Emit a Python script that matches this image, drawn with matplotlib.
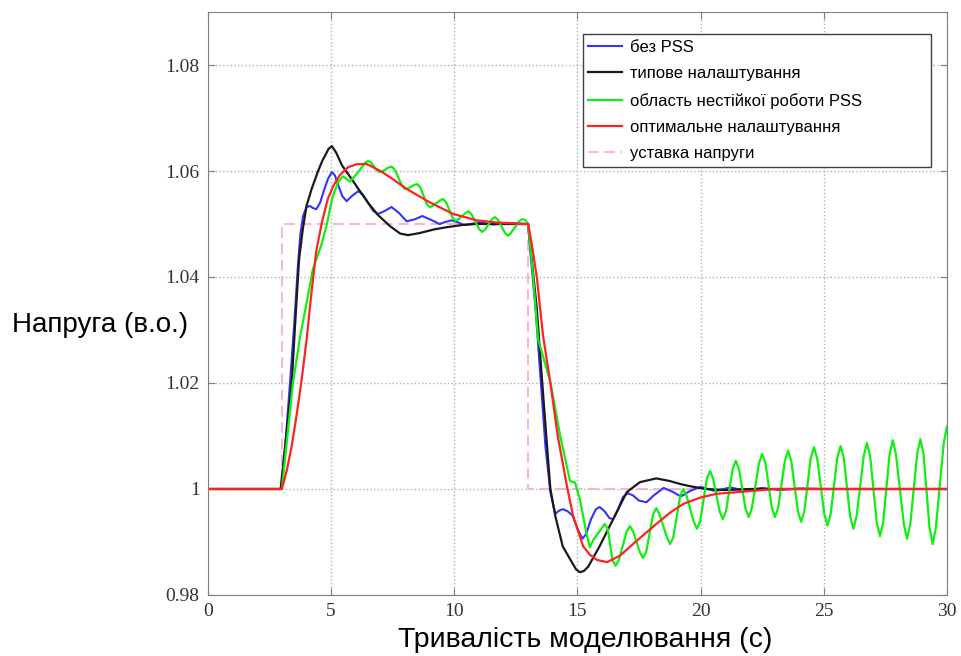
import matplotlib.pyplot as plt

# setpoint
t_set = [0, 3, 3, 13, 13, 30]
v_set = [1.0, 1.0, 1.05, 1.05, 1.0, 1.0]

# without PSS
t_blue = [0, 3.0, 3.2, 3.33, 3.5, 3.65, 3.75, 3.86, 4.0, 4.14, 4.27, 4.4, 4.55, 4.7, 4.87,
          5.03, 5.15, 5.3, 5.45, 5.63, 5.85, 6.1, 6.3, 6.5, 6.7, 6.9, 7.15, 7.45, 7.75, 8.07,
          8.4, 8.7, 9.05, 9.4, 9.65, 9.9, 10.15, 10.4, 11.0, 11.6, 12.2, 13.0,
          13.1, 13.3, 13.5, 13.7, 13.9, 14.1, 14.25, 14.4, 14.6, 14.8, 15.0, 15.2, 15.35,
          15.55, 15.75, 15.9, 16.1, 16.3, 16.45, 16.65, 16.85, 17.05, 17.25, 17.5, 17.8,
          18.1, 18.5, 18.85, 19.2, 19.6, 20.0, 20.3, 20.6, 21.2, 21.8, 22.5, 23.2, 24.0,
          25.0, 30.0]
v_blue = [1.0, 1.0, 1.012, 1.02, 1.031, 1.042, 1.048, 1.0515, 1.0532, 1.0534, 1.053, 1.0528,
          1.054, 1.0562, 1.0585, 1.0598, 1.0592, 1.0572, 1.0553, 1.0543, 1.0553, 1.0562,
          1.0555, 1.054, 1.0525, 1.0519, 1.0524, 1.0532, 1.0521, 1.0505, 1.0509, 1.0515,
          1.0508, 1.0500, 1.0504, 1.0507, 1.0503, 1.0498, 1.0503, 1.0499, 1.0502, 1.05,
          1.044, 1.034, 1.021, 1.008, 0.9994, 0.9953, 0.9959, 0.9962, 0.9958, 0.9950,
          0.9925, 0.9906, 0.9915, 0.9943, 0.9962, 0.9966, 0.9958, 0.9945, 0.9943, 0.9962,
          0.9985, 0.9992, 0.9988, 0.9978, 0.9975, 0.9988, 1.0002, 0.9995, 0.9986, 0.9997,
          1.0004, 1.0, 0.9996, 1.0003, 0.9997, 1.0002, 0.9998, 1.0001, 1.0, 1.0]

# typical tuning
t_black = [0, 2.95, 3.2, 3.4, 3.55, 3.7, 3.85, 4.0, 4.2, 4.47, 4.65, 4.9, 5.03, 5.2, 5.45,
           5.8, 6.17, 6.5, 6.9, 7.39, 7.8, 8.12, 8.6, 9.2, 9.7, 10.3, 10.9, 13.0,
           13.15, 13.35, 13.55, 13.75, 13.9, 14.1, 14.4, 14.77, 14.95, 15.1, 15.25, 15.43,
           15.9, 16.45, 17.0, 17.54, 18.2, 18.75, 19.2, 19.6, 20.2, 21.0, 22.0, 30.0]
v_black = [1.0, 1.0, 1.011, 1.02, 1.032, 1.0434, 1.049, 1.0534, 1.0565, 1.06, 1.062, 1.0642,
           1.0647, 1.0635, 1.061, 1.0587, 1.0562, 1.054, 1.0517, 1.0496, 1.0482, 1.0479,
           1.0483, 1.049, 1.0494, 1.0498, 1.050, 1.05,
           1.043, 1.034, 1.0213, 1.009, 1.0, 0.9949, 0.9892, 0.9862, 0.9848, 0.9843, 0.9845,
           0.9853, 0.9892, 0.9943, 0.9994, 1.0013, 1.002, 1.0015, 1.0009, 1.0005, 1.0,
           0.9998, 1.0, 1.0]

# unstable PSS region
t_green = [0, 3.0, 3.45, 3.75, 4.0, 4.26, 4.6, 4.83, 5.05, 5.28, 5.48, 5.76, 6.1,
           6.38, 6.5, 6.62, 6.86, 6.98, 7.1, 7.35, 7.47, 7.59, 7.88, 8.0, 8.12, 8.38, 8.5,
           8.62, 8.88, 9.0, 9.12, 9.43, 9.55, 9.67, 9.93, 10.05, 10.17, 10.46, 10.58, 10.7,
           11.0, 11.12, 11.24, 11.53, 11.65, 11.77, 12.06, 12.18, 12.3, 12.63, 12.75, 12.87,
           13.0,
           13.2, 13.4, 13.6, 13.9, 14.3, 14.7, 14.9, 15.1, 15.37, 15.5, 15.63, 15.97, 16.1,
           16.23, 16.42, 16.55, 16.68, 17.0, 17.13, 17.26, 17.53, 17.66, 17.79, 18.07, 18.2,
           18.33, 18.63, 18.76, 18.89, 19.17, 19.3, 19.43, 19.72, 19.85, 19.98, 20.25, 20.38,
           20.51, 20.77, 20.9, 21.03, 21.3, 21.43, 21.56, 21.82, 21.95, 22.08, 22.37, 22.5,
           22.63, 22.89, 23.02, 23.15, 23.42, 23.55, 23.68, 23.95, 24.08, 24.21, 24.47, 24.6,
           24.73, 25.02, 25.15, 25.28, 25.55, 25.68, 25.81, 26.07, 26.2, 26.33, 26.62, 26.75,
           26.88, 27.15, 27.28, 27.41, 27.67, 27.8, 27.93, 28.25, 28.38, 28.51, 28.79, 28.92,
           29.05, 29.29, 29.42, 29.55, 29.87, 30.0]
v_green = [1.0, 1.0, 1.02, 1.029, 1.035, 1.0415, 1.046, 1.05, 1.055, 1.0579, 1.059, 1.058,
           1.0598,
           1.0616, 1.0619, 1.0616, 1.0601, 1.0598, 1.06, 1.0607, 1.0608, 1.0602, 1.0572,
           1.0566, 1.0567, 1.0574, 1.0575, 1.0569, 1.0538, 1.0532, 1.0534, 1.0545, 1.0547,
           1.0541, 1.0512, 1.0506, 1.0509, 1.0521, 1.0524, 1.0518, 1.0491, 1.0485, 1.0489,
           1.0509, 1.0513, 1.0508, 1.0483, 1.0478, 1.0483, 1.0505, 1.0509, 1.0508, 1.05,
           1.040, 1.0283, 1.0251, 1.0202, 1.01, 1.0015, 1.0012, 0.998, 0.9915, 0.989, 0.9903,
           0.9925, 0.9934, 0.9925, 0.9866, 0.9855, 0.9866, 0.9920, 0.993, 0.9920, 0.9881,
           0.987, 0.9881, 0.9952, 0.9964, 0.9952, 0.9909, 0.9896, 0.9909, 0.9987, 1.0,
           0.9987, 0.99385, 0.9925, 0.99385, 1.0019, 1.0034, 1.0019, 0.9958, 0.9943, 0.9958,
           1.0037, 1.0053, 1.0037, 0.99635, 0.9947, 0.99635, 1.0049, 1.0066, 1.0049, 0.9965,
           0.9947, 0.9965, 1.0053, 1.0072, 1.0053, 0.9958, 0.9938, 0.9958, 1.0058, 1.0079,
           1.0058, 0.9953, 0.9931, 0.9953, 1.0059, 1.0081, 1.0059, 0.9948, 0.9925, 0.9948,
           1.0062, 1.0087, 1.0062, 0.9937, 0.9911, 0.9937, 1.0065, 1.0092, 1.0065, 0.99335,
           0.9906, 0.99335, 1.0066, 1.0094, 1.0066, 0.9927, 0.9896, 0.9927, 1.0087, 1.0118]

# optimal tuning
t_red = [0, 3.0, 3.2, 3.4, 3.6, 3.8, 4.0, 4.2, 4.4, 4.63, 4.87, 5.1, 5.35, 5.68, 6.05, 6.45,
         7.0, 7.5, 8.07, 9.0, 9.95, 10.9, 11.7, 12.8, 13.0, 13.15, 13.35, 13.6, 13.9, 14.2,
         14.57, 14.82, 15.23, 15.5, 15.8, 16.2, 16.72, 17.4, 18.2, 18.75, 19.3, 20.0, 20.66,
         22.0, 23.0, 30.0]
v_red = [1.0, 1.0, 1.0035, 1.0081, 1.014, 1.0205, 1.028, 1.037, 1.045, 1.0504, 1.0548,
         1.0573, 1.0592, 1.0607, 1.0613, 1.0613, 1.06, 1.0585, 1.0566, 1.0541, 1.0519, 1.0507,
         1.0503, 1.050, 1.05, 1.046, 1.040, 1.029, 1.020, 1.010, 1.0006, 0.995, 0.9892,
         0.9876, 0.9866, 0.9862, 0.9874, 0.9902, 0.9934, 0.9955, 0.9972, 0.9984, 0.9991,
         0.9996, 1.0, 1.0]

labels = ['без PSS', 'типове налаштування', 'область нестійкої роботи PSS',
          'оптимальне налаштування', 'уставка напруги']

fig = plt.figure(figsize=(9.61, 6.56), dpi=100)
ax = fig.add_axes([0.2164, 0.093, 0.769, 0.8887])

h_set, = ax.plot(t_set, v_set, color='#ffaad4', lw=1.3, ls=(0, (6, 3)))
h_blue, = ax.plot(t_blue, v_blue, color='#3333ff', lw=1.5)
h_black, = ax.plot(t_black, v_black, color='#1a1a1a', lw=1.6)
h_green, = ax.plot(t_green, v_green, color='#11ee11', lw=1.6)
h_red, = ax.plot(t_red, v_red, color='#ff2222', lw=1.6)

ax.set_xlim(0, 30)
ax.set_ylim(0.98, 1.09)
ax.set_xticks([0, 5, 10, 15, 20, 25, 30])
ax.set_yticks([0.98, 1.0, 1.02, 1.04, 1.06, 1.08])
ax.set_yticklabels(['0.98', '1', '1.02', '1.04', '1.06', '1.08'])
ax.grid(True, ls=':', color='#b0b0b0', lw=1)
ax.tick_params(direction='in', top=True, right=True, length=5, color='#808080',
               labelsize=14, pad=6)
for lab in ax.get_xticklabels() + ax.get_yticklabels():
    lab.set_family('Liberation Serif')
    lab.set_color('#333333')
for sp in ax.spines.values():
    sp.set_color('#808080')

leg = ax.legend([h_blue, h_black, h_green, h_red, h_set], labels,
                loc='upper left', bbox_to_anchor=(0.507, 0.732, 0.471, 0.230), mode='expand',
                prop={'family': 'Liberation Sans', 'size': 12}, fancybox=False,
                edgecolor='#404040', framealpha=1, handlelength=2.0, handletextpad=0.5,
                labelspacing=0.68, borderpad=0.35, borderaxespad=0)
leg.get_frame().set_linewidth(1.0)

fig.text(12 / 961, 1 - 325 / 656, 'Напруга (в.о.)', ha='left', va='center',
         family='Liberation Sans', fontsize=20)
fig.text(585 / 961, 1 - 640 / 656, 'Тривалість моделювання (с)', ha='center', va='center',
         family='Liberation Sans', fontsize=20.5)

fig.savefig('out.png', dpi=100)
